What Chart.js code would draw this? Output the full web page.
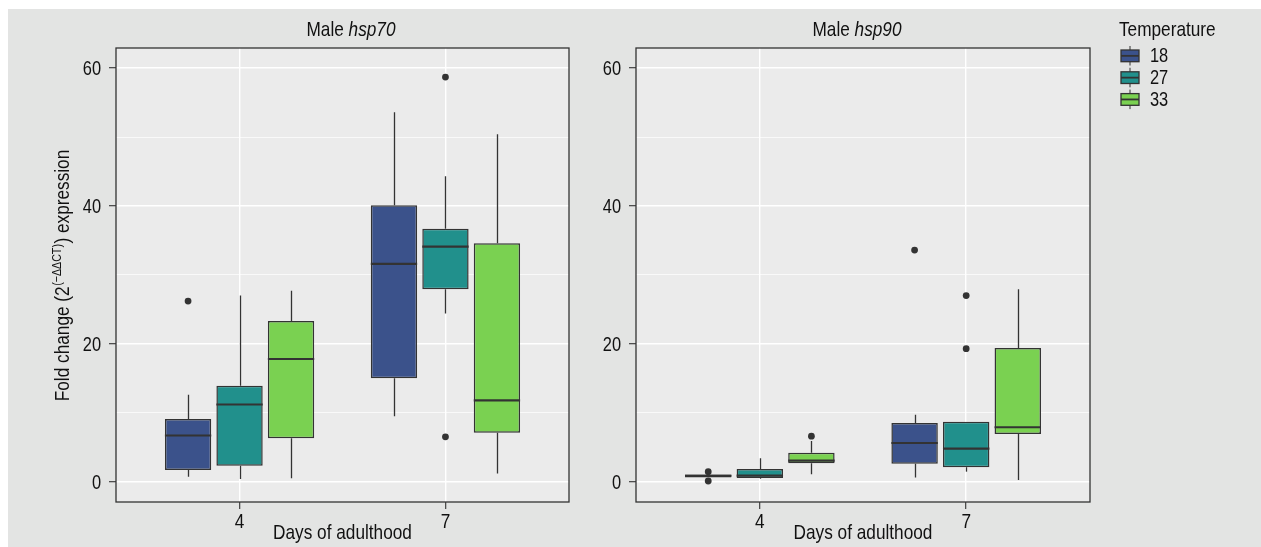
<!DOCTYPE html>
<html>
<head>
<meta charset="utf-8">
<script src="https://cdn.jsdelivr.net/npm/chart.js@4.4.1/dist/chart.umd.min.js"></script>
<style>
    html, body { margin: 0; padding: 0; background: #ffffff; }
    #bg { position: absolute; left: 8px; top: 9px; width: 1253px; height: 538px; background: #E3E4E3; }
    canvas { position: absolute; top: 0; }
    #hsp70Chart { left: 0; }
    #hsp90Chart { left: 590px; }
</style>
</head>
<body>
<div id="bg"></div>
<canvas id="hsp70Chart" width="590" height="547"></canvas>
<canvas id="hsp90Chart" width="671" height="547"></canvas>
<script>
// 横轴类别 / 图例分组
const days = ['4', '7'];
const temperatures = ['18', '27', '33'];
const yTicks = [0, 10, 20, 30, 40, 50, 60];

// 每组五数概括: [下须, Q1, 中位数, Q3, 上须]，依次对应 days
const hsp70T18 = [[0.7, 1.7, 6.7, 9.1, 12.6], [9.5, 15.0, 31.6, 40.1, 53.6]];
const hsp70T27 = [[0.4, 2.3, 11.2, 13.9, 27.0], [24.4, 27.9, 34.1, 36.7, 44.3]];
const hsp70T33 = [[0.5, 6.3, 17.8, 23.3, 27.7], [1.2, 7.1, 11.8, 34.6, 50.4]];
const hsp70Out18 = [[26.2], []];
const hsp70Out27 = [[], [58.7, 6.5]];
const hsp70Out33 = [[], []];

const hsp90T18 = [[0.6, 0.6, 0.85, 1.05, 1.05], [0.6, 2.6, 5.6, 8.5, 9.7]];
const hsp90T27 = [[0.44, 0.54, 0.87, 1.84, 3.4], [1.45, 2.1, 4.8, 8.7, 8.7]];
const hsp90T33 = [[1.07, 2.67, 3.05, 4.2, 5.9], [0.25, 6.9, 7.9, 19.4, 27.9]];
const hsp90Out18 = [[1.45, 0.1], [33.6]];
const hsp90Out27 = [[], [27.0, 19.3]];
const hsp90Out33 = [[6.6], []];

const fillColors = ['#3B528B', '#21908C', '#7AD151'];
const FONT = "'Liberation Sans', Arial, sans-serif";
const NARROW = 0.82;   // 模拟 Arial Narrow
const INK = '#333333';
const TEXT = '#111111';

// 横向压缩的文字
function narrowText(ctx, text, x, y, font, align) {
    ctx.save();
    ctx.font = font;
    ctx.textAlign = align || 'left';
    ctx.textBaseline = 'alphabetic';
    ctx.translate(x, y);
    ctx.scale(NARROW, 1);
    ctx.fillText(text, 0, 0);
    ctx.restore();
}

function narrowWidth(ctx, text, font) {
    ctx.save();
    ctx.font = font;
    const w = ctx.measureText(text).width * NARROW;
    ctx.restore();
    return w;
}

// 箱线图的须、中位线、离群点、面板边框和文字
const boxExtras = {
    id: 'boxExtras',
    beforeDraw(chart) {
        const { ctx, chartArea: a } = chart;
        ctx.save();
        ctx.fillStyle = '#EBEBEB';
        ctx.fillRect(a.left, a.top, a.right - a.left, a.bottom - a.top);
        ctx.restore();
    },
    beforeDatasetsDraw(chart) {
        const { ctx } = chart;
        const y = chart.scales.y;
        ctx.save();
        ctx.strokeStyle = INK;
        ctx.lineWidth = 1.3;
        chart.data.datasets.forEach((ds, i) => {
            chart.getDatasetMeta(i).data.forEach((bar, k) => {
                const s = ds.stats[k];
                const x = Math.round(bar.x) + 0.5;
                ctx.beginPath();
                ctx.moveTo(x, y.getPixelForValue(s[0]));
                ctx.lineTo(x, y.getPixelForValue(s[1]));
                ctx.moveTo(x, y.getPixelForValue(s[3]));
                ctx.lineTo(x, y.getPixelForValue(s[4]));
                ctx.stroke();
            });
        });
        ctx.restore();
    },
    afterDatasetsDraw(chart) {
        const { ctx, chartArea: a } = chart;
        const y = chart.scales.y;
        ctx.save();
        chart.data.datasets.forEach((ds, i) => {
            chart.getDatasetMeta(i).data.forEach((bar, k) => {
                const s = ds.stats[k];
                const my = y.getPixelForValue(s[2]);
                ctx.strokeStyle = INK;
                ctx.lineWidth = 2.1;
                ctx.beginPath();
                ctx.moveTo(bar.x - bar.width / 2, my);
                ctx.lineTo(bar.x + bar.width / 2, my);
                ctx.stroke();
                ctx.fillStyle = INK;
                ds.outliers[k].forEach(v => {
                    ctx.beginPath();
                    ctx.arc(bar.x, y.getPixelForValue(v), 3.4, 0, Math.PI * 2);
                    ctx.fill();
                });
            });
        });
        ctx.strokeStyle = INK;
        ctx.lineWidth = 1.3;
        ctx.strokeRect(a.left, a.top, a.right - a.left, a.bottom - a.top);
        ctx.restore();
    },
    afterDraw(chart, args, opts) {
        const { ctx, chartArea: a } = chart;
        const xs = chart.scales.x;
        const ys = chart.scales.y;
        ctx.save();
        ctx.fillStyle = TEXT;

        // 刻度标签
        const tickFont = `20px ${FONT}`;
        ys.ticks.forEach(t => {
            if (t.value % 20 !== 0) return;
            narrowText(ctx, String(t.value), a.left - 15, ys.getPixelForValue(t.value) + 7.2, tickFont, 'right');
        });
        xs.ticks.forEach(t => {
            narrowText(ctx, days[t.value - 1], xs.getPixelForValue(t.value), 528, `21px ${FONT}`, 'center');
        });

        // 分面标题: 常规 + 斜体基因名
        const f1 = `21px ${FONT}`;
        const f2 = `italic 21px ${FONT}`;
        const w1 = narrowWidth(ctx, opts.title[0], f1);
        const w2 = narrowWidth(ctx, opts.title[1], f2);
        const tx = opts.titleX - (w1 + w2) / 2;
        narrowText(ctx, opts.title[0], tx, 36, f1, 'left');
        narrowText(ctx, opts.title[1], tx + w1, 36, f2, 'left');

        // 横轴标题
        narrowText(ctx, 'Days of adulthood', (a.left + a.right) / 2, 539, f1, 'center');

        // 纵轴标题 (带上标)
        if (opts.yTitle) {
            const parts = ['Fold change (2', '(\u2212\u0394\u0394CT)', ') expression'];
            const supFont = `13px ${FONT}`;
            const p0 = narrowWidth(ctx, parts[0], f1);
            const p1 = narrowWidth(ctx, parts[1], supFont);
            const p2 = narrowWidth(ctx, parts[2], f1);
            ctx.save();
            ctx.translate(69, (a.top + a.bottom) / 2 + 1);
            ctx.rotate(-Math.PI / 2);
            const x0 = -(p0 + p1 + p2) / 2;
            narrowText(ctx, parts[0], x0, 0, f1, 'left');
            narrowText(ctx, parts[1], x0 + p0 + 0.5, -8.5, supFont, 'left');
            narrowText(ctx, parts[2], x0 + p0 + p1 + 1, 0, f1, 'left');
            ctx.restore();
        }

        // 图例
        if (opts.legendX !== undefined) {
            const lx = opts.legendX;
            narrowText(ctx, 'Temperature', lx, 36, f1, 'left');
            temperatures.forEach((t, i) => {
                const top = 50 + i * 21.8;
                const bx = lx + 2;
                ctx.strokeStyle = INK;
                ctx.lineWidth = 1;
                ctx.beginPath();
                ctx.moveTo(bx + 9, top - 4);
                ctx.lineTo(bx + 9, top + 15.5);
                ctx.stroke();
                ctx.fillStyle = fillColors[i];
                ctx.fillRect(bx, top, 18, 11.7);
                ctx.lineWidth = 1.3;
                ctx.strokeRect(bx, top, 18, 11.7);
                ctx.lineWidth = 1.8;
                ctx.beginPath();
                ctx.moveTo(bx, top + 5.85);
                ctx.lineTo(bx + 18, top + 5.85);
                ctx.stroke();
                ctx.fillStyle = TEXT;
                narrowText(ctx, t, lx + 31, top + 12, `20px ${FONT}`, 'left');
            });
        }
        ctx.restore();
    }
};

function makeDatasets(series, outliers) {
    return temperatures.map((t, i) => ({
        label: t,
        data: days.map((d, k) => ({ x: k + 1, y: [series[i][k][1], series[i][k][3]] })),
        stats: series[i],
        outliers: outliers[i],
        backgroundColor: fillColors[i],
        borderColor: INK,
        borderWidth: 1.5,
        borderSkipped: false,
        categoryPercentage: 0.75,
        barPercentage: 0.9
    }));
}

function makeChart(canvasId, datasets, axisWidth, padRight, extras) {
    return new Chart(document.getElementById(canvasId), {
        type: 'bar',
        data: { datasets: datasets },
        plugins: [boxExtras],
        options: {
            responsive: false,
            animation: false,
            events: [],
            layout: { padding: { top: 48, right: padRight, bottom: 0, left: 0 } },
            plugins: {
                legend: { display: false },
                title: { display: false },
                tooltip: { enabled: false },
                boxExtras: extras
            },
            scales: {
                x: {
                    type: 'linear',
                    min: 0.4,
                    max: 2.6,
                    offset: false,
                    afterBuildTicks: s => { s.ticks = days.map((d, k) => ({ value: k + 1 })); },
                    afterFit: s => { s.height = 45; },
                    ticks: { display: false },
                    grid: {
                        offset: false,
                        color: '#FFFFFF',
                        lineWidth: 1.4,
                        tickLength: 7,
                        tickColor: INK,
                        tickWidth: 1.1
                    },
                    border: { display: false }
                },
                y: {
                    type: 'linear',
                    min: -2.95,
                    max: 62.92,
                    afterBuildTicks: s => { s.ticks = yTicks.map(v => ({ value: v })); },
                    afterFit: s => { s.width = axisWidth; },
                    ticks: { display: false },
                    grid: {
                        color: '#FFFFFF',
                        lineWidth: ctx => (ctx.tick && ctx.tick.value % 20 === 0 ? 1.4 : 0.7),
                        tickLength: 7,
                        tickColor: ctx => (ctx.tick && ctx.tick.value % 20 === 0 ? INK : 'rgba(0,0,0,0)'),
                        tickWidth: 1.1
                    },
                    border: { display: false }
                }
            }
        }
    });
}

makeChart('hsp70Chart',
    makeDatasets([hsp70T18, hsp70T27, hsp70T33], [hsp70Out18, hsp70Out27, hsp70Out33]),
    116, 21,
    { title: ['Male ', 'hsp70'], titleX: 351, yTitle: true });

makeChart('hsp90Chart',
    makeDatasets([hsp90T18, hsp90T27, hsp90T33], [hsp90Out18, hsp90Out27, hsp90Out33]),
    46, 171,
    { title: ['Male ', 'hsp90'], titleX: 267, legendX: 529 });
</script>
</body>
</html>
